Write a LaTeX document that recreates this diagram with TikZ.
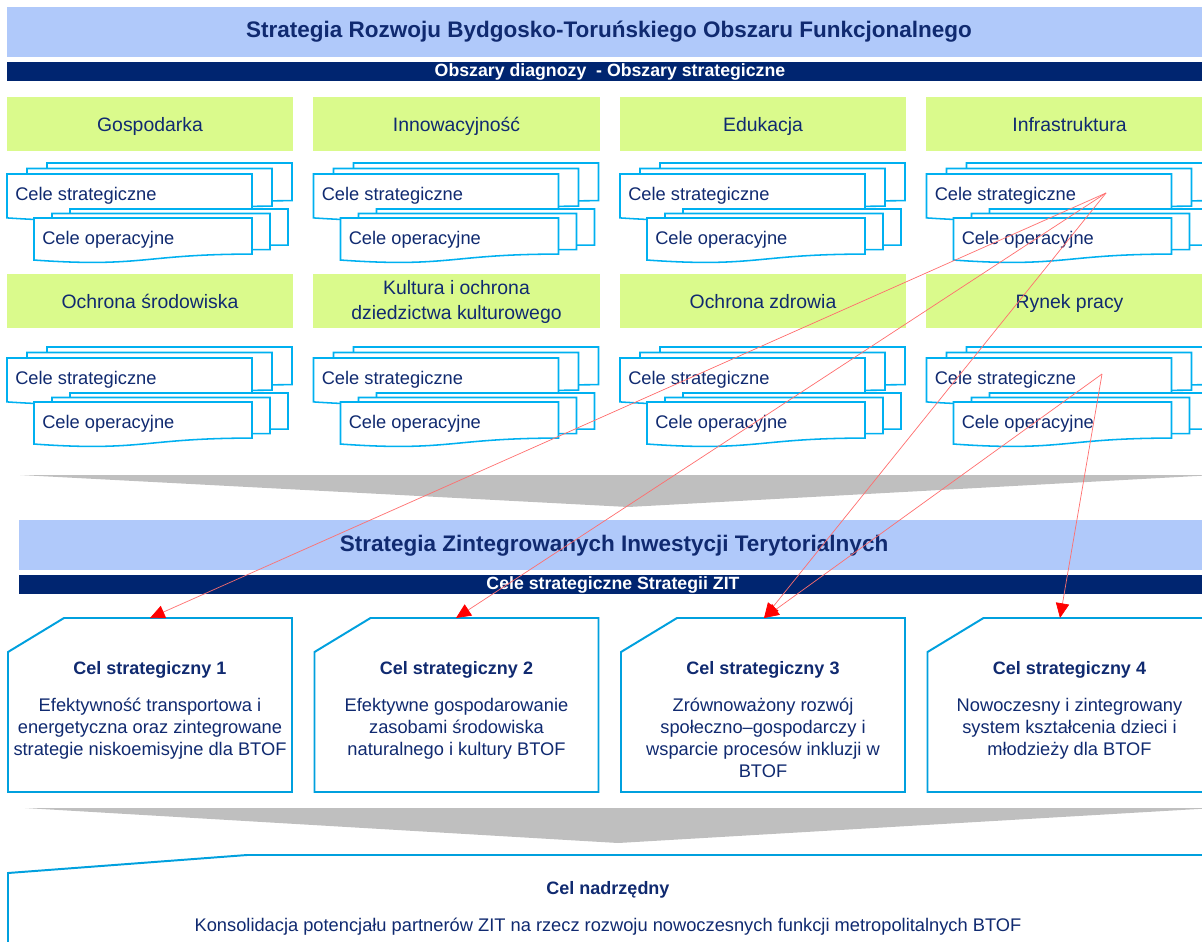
\documentclass[tikz,border=0pt]{standalone}
\usepackage{fontspec}
\setmainfont{Liberation Sans}
\usetikzlibrary{arrows.meta}

% document shape with a wavy bottom: x, y (top left), width, height
\newcommand{\docshape}[4]{%
  \path[docline] ({#1},{#2}) -- ({#1+#3},{#2}) -- ({#1+#3},{#2+0.802*#4})
    .. controls ({#1+0.5*#3},{#2+0.802*#4}) and ({#1+0.5*#3},{#2+1.107*#4}) .. ({#1},{#2+0.934*#4}) -- cycle;}

\begin{document}
\begin{tikzpicture}[x=0.025cm, y=-0.025cm, font=\fontsize{13}{15.6}\selectfont, text=textblue]
  \definecolor{textblue}{RGB}{16,42,112}
  \definecolor{bannerblue}{RGB}{176,201,250}
  \definecolor{navybar}{RGB}{0,37,112}
  \definecolor{greenbox}{RGB}{218,250,140}
  \definecolor{docblue}{RGB}{0,176,240}
  \definecolor{cardblue}{RGB}{0,160,222}
  \definecolor{wedgegray}{RGB}{191,191,191}
  \definecolor{linkred}{RGB}{255,110,110}
  \definecolor{arrowred}{RGB}{255,0,0}
  \tikzset{
    banner/.style={fill=bannerblue},
    navy/.style={fill=navybar},
    heading/.style={font=\bfseries\fontsize{16}{19}\selectfont},
    bartext/.style={text=white, font=\bfseries\fontsize{12.6}{15}\selectfont},
    area/.style={fill=greenbox, minimum width=7.15cm, minimum height=1.35cm, inner sep=0pt,
      align=center, font=\fontsize{13.8}{18}\selectfont,
      execute at begin node=\rule{0pt}{16pt}, execute at end node=\strut},
    docline/.style={draw=docblue, fill=white, line width=1.1pt},
    cardline/.style={draw=cardblue, fill=white, line width=1.4pt},
    celtitle/.style={font=\bfseries\fontsize{12.8}{15}\selectfont},
    celbody/.style={align=center, inner sep=0pt, font=\fontsize{13}{15.6}\selectfont},
    wedge/.style={fill=wedgegray},
    link/.style={draw=linkred, line width=0.5pt, -{Triangle[length=10.5pt, width=9.5pt, color=arrowred]}}
  }
  \useasboundingbox (0,0) rectangle (1202,941);

  % strategy of the functional area
  \path[banner] (7,7) rectangle (1215,57);
  \node[heading] (srbtof) at (609,32) {Strategia Rozwoju Bydgosko-Toruńskiego Obszaru Funkcjonalnego};
  \path[navy] (7,62) rectangle (1215,81);
  \node[bartext] (obszary) at (610,72) {Obszary diagnozy \ - Obszary strategiczne};

  \foreach \c/\top/\bottom in {0/Gospodarka/Ochrona środowiska,
      1/Innowacyjność/{\raisebox{1pt}[0pt][0pt]{\begin{tabular}{@{}c@{}}Kultura i ochrona\\dziedzictwa kulturowego\end{tabular}}},
      2/Edukacja/Ochrona zdrowia, 3/Infrastruktura/Rynek pracy} {
    \node[area] (area-0-\c) at ({150+306.5*\c},124) {\top};
    \node[area] (area-1-\c) at ({150+306.5*\c},301) {\bottom};
  }

  \foreach \r in {0,1} {
    \foreach \c in {0,...,3} {
      \pgfmathsetmacro\cx{306.5*\c}
      \pgfmathsetmacro\ry{184*\r}
      \docshape{\cx+47}{\ry+163}{245}{47}
      \docshape{\cx+27}{\ry+168.5}{245}{47}
      \docshape{\cx+7}{\ry+174}{245}{47}
      \node[anchor=west, inner sep=0pt] (cs-\r-\c) at ({\cx+15},{\ry+196}) {Cele strategiczne};
      \docshape{\cx+70}{\ry+209}{218}{45}
      \docshape{\cx+52}{\ry+213.5}{218}{45}
      \docshape{\cx+34}{\ry+218}{218}{45}
      \node[anchor=west, inner sep=0pt] (co-\r-\c) at ({\cx+42},{\ry+240}) {Cele operacyjne};
    }
  }

  \path[wedge] (20,475) -- (1215,475) -- (628,507) -- cycle;

  % ZIT strategy
  \path[banner] (19,520) rectangle (1215,570);
  \node[heading] (zit) at (614,546) {Strategia Zintegrowanych Inwestycji Terytorialnych};
  \path[navy] (19,575) rectangle (1215,594);
  \node[bartext] (celezit) at (613,585) {Cele strategiczne Strategii ZIT};

  \foreach \c/\body in {0/{Efektywność transportowa i\\energetyczna oraz zintegrowane\\strategie niskoemisyjne dla BTOF},
      1/{Efektywne gospodarowanie\\zasobami środowiska\\naturalnego i kultury BTOF},
      2/{Zrównoważony rozwój\\społeczno–gospodarczy i\\wsparcie procesów inkluzji w\\BTOF},
      3/{Nowoczesny i zintegrowany\\system kształcenia dzieci i\\młodzieży dla BTOF}} {
    \pgfmathsetmacro\cx{306.5*\c}
    \pgfmathtruncatemacro\n{\c+1}
    \path[cardline] ({\cx+64},618) -- ({\cx+292},618) -- ({\cx+292},792)
      -- ({\cx+8},792) -- ({\cx+8},652) -- cycle;
    \node[celtitle] (cel\n) at ({\cx+150},670) {Cel strategiczny \n};
    \node[celbody, anchor=north] (cel\n-text) at ({\cx+150},698) {\body};
  }
  \coordinate (cel1-in) at (150,618);
  \coordinate (cel2-in) at (456,618);
  \coordinate (cel3-in) at (764,618);
  \coordinate (cel4-in) at (1060,618);

  \path[wedge] (25,808) -- (1215,808) -- (618,843) -- cycle;

  % overall goal
  \path[cardline] (8,960) -- (8,873) -- (247,855) -- (1215,855) -- (1215,960);
  \node[celtitle] (nadrzedny) at (608,890) {Cel nadrzędny};
  \node (konsolidacja) at (608,927) {Konsolidacja potencjału partnerów ZIT na rzecz rozwoju nowoczesnych funkcji metropolitalnych BTOF};

  % links from the areas to the ZIT goals
  \coordinate (infra-cs) at (1106,193);
  \coordinate (rynek-cs) at (1102,374);
  \draw[link] (infra-cs) -- (cel1-in);
  \draw[link] (infra-cs) -- (cel2-in);
  \draw[link] (infra-cs) -- (cel3-in);
  \draw[link] (rynek-cs) -- (cel3-in);
  \draw[link] (rynek-cs) -- (cel4-in);
\end{tikzpicture}
\end{document}
